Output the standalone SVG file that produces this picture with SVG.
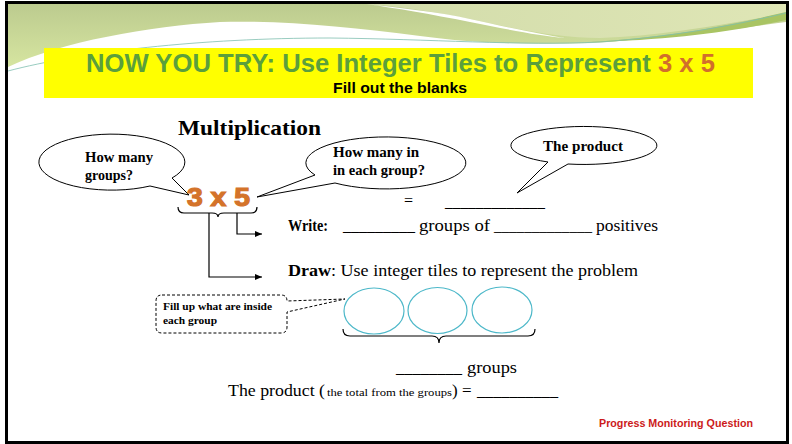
<svg xmlns="http://www.w3.org/2000/svg" width="792" height="444" viewBox="0 0 792 444">
<style>
.serif{font-family:"Liberation Serif","Times New Roman",serif;fill:#000}
.b{font-weight:bold}
.bub{fill:#fff;stroke:#000;stroke-width:1}
.ln{fill:none;stroke:#000;stroke-width:1.2}
.tile{fill:#fff;stroke:#4db8c9;stroke-width:1.2}
</style>
<defs>
<linearGradient id="gA" x1="0" y1="0" x2="0" y2="1">
<stop offset="0" stop-color="#bccb8f"/>
<stop offset="1" stop-color="#d6e5a0"/>
</linearGradient>
<linearGradient id="gB" x1="0" y1="0" x2="1" y2="0">
<stop offset="0" stop-color="#d2dcaa"/>
<stop offset="1" stop-color="#dfe6b6"/>
</linearGradient>
<marker id="arr" markerWidth="8" markerHeight="8" refX="7" refY="4" orient="auto" markerUnits="userSpaceOnUse">
<path d="M0,1 L7,4 L0,7 Z" fill="#000"/>
</marker>
</defs>
<rect x="0" y="0" width="792" height="444" fill="#fff"/>
<g id="background">
<path d="M8,4 L786,4 L786,22 C740,28 690,36 593,43 C530,45 470,43 420,36 C350,27 280,20 220,22 C150,26 60,42 8,67 Z" fill="url(#gA)"/>
<path d="M366,4 L786,4 L786,13 C730,24 660,36 600,38 C560,38 520,30 470,19 C430,11 395,6 366,4 Z" fill="url(#gB)"/>
<path d="M366,4 C400,8 440,12 470,19 C510,28 545,35 565,38 C540,36 505,29 470,22 C430,14 395,8 366,4 Z" fill="#fff"/>
<path d="M590,42 C660,38 720,28 786,12 L786,20 C730,32 670,40 590,42 Z" fill="#a9c463"/>
<path d="M8,71 C80,52 200,38 330,38 C430,39 520,46 600,42 C680,36 740,24 786,13" fill="none" stroke="#7fbfb0" stroke-width="0.8"/>
</g>
<rect id="frame" x="6.5" y="2.5" width="781" height="440" fill="none" stroke="#000" stroke-width="3"/>
<g id="title">
<rect x="44" y="48" width="709" height="50" fill="#ffff00"/>
<text x="86" y="72" font-family="'Liberation Sans',Arial,sans-serif" font-weight="bold" font-size="25" textLength="629" lengthAdjust="spacingAndGlyphs" fill="#5b9f3c">NOW YOU TRY: Use Integer Tiles to Represent <tspan fill="#d26f2b">3 x 5</tspan></text>
<text x="333" y="93" font-family="'Liberation Sans',Arial,sans-serif" font-weight="bold" font-size="15" textLength="134" lengthAdjust="spacingAndGlyphs" fill="#000">Fill out the blanks</text>
</g>
<g id="heading">
<text class="serif b" x="178" y="135" font-size="22" textLength="143" lengthAdjust="spacingAndGlyphs">Multiplication</text>
</g>
<g id="bubble-groups">
<path class="bub" d="M172,178 L189,195 L150,186 A73,28 0 1 1 172,178 Z"/>
<text class="serif b" font-size="14"><tspan x="85" y="162" textLength="68" lengthAdjust="spacingAndGlyphs">How many</tspan><tspan x="85" y="180" textLength="48" lengthAdjust="spacingAndGlyphs">groups?</tspan></text>
</g>
<g id="bubble-each">
<path class="bub" d="M335,183 L257,197 L315,175 A80,26 0 1 1 335,183 Z"/>
<text class="serif b" font-size="14"><tspan x="333" y="157" textLength="86" lengthAdjust="spacingAndGlyphs">How many in</tspan><tspan x="333" y="175" textLength="92" lengthAdjust="spacingAndGlyphs">in each group?</tspan></text>
</g>
<g id="bubble-product">
<path class="bub" d="M568,164 L517,193 L548,162 A73,19 0 1 1 568,164 Z"/>
<text class="serif b" x="543" y="151" font-size="14" textLength="80" lengthAdjust="spacingAndGlyphs">The product</text>
</g>
<g id="expression">
<text x="187" y="206" font-family="'Liberation Sans',Arial,sans-serif" font-weight="bold" font-size="25" fill="#d4732a" stroke="#d4732a" stroke-width="1.2" textLength="63" lengthAdjust="spacingAndGlyphs">3 x 5</text>
<text class="serif" x="404" y="206" font-size="16">=</text>
<text class="serif" x="445" y="207" font-size="16" textLength="100" lengthAdjust="spacingAndGlyphs">_____________</text>
</g>
<g id="connectors">
<path class="ln" d="M178,207 Q178,213 184,213 L212,213 Q218,213 218,217 Q218,213 224,213 L251,213 Q257,213 257,207"/>
<path class="ln" d="M237,213 V234 H262" marker-end="url(#arr)"/>
<path class="ln" d="M209,213 V277 H262" marker-end="url(#arr)"/>
<path class="ln" stroke-width="1.4" d="M343,329 Q343,336 350,336 L432,336 Q439,336 439,343 Q439,336 446,336 L528,336 Q535,336 535,329"/>
</g>
<g id="write">
<text class="serif" font-size="16"><tspan class="b" x="288" y="231" textLength="40" lengthAdjust="spacingAndGlyphs">Write:</tspan><tspan x="343" y="231" textLength="72" lengthAdjust="spacingAndGlyphs">_________</tspan><tspan x="419" y="231" textLength="71" lengthAdjust="spacingAndGlyphs">groups of</tspan><tspan x="494" y="231" textLength="98" lengthAdjust="spacingAndGlyphs">_____________</tspan><tspan x="596" y="231" textLength="62" lengthAdjust="spacingAndGlyphs">positives</tspan></text>
</g>
<g id="draw">
<text class="serif" font-size="16" x="288" y="276" textLength="350" lengthAdjust="spacingAndGlyphs"><tspan class="b">Draw</tspan>: Use integer tiles to represent the problem</text>
</g>
<g id="tiles">
<ellipse class="tile" cx="374" cy="311" rx="30" ry="23"/>
<ellipse class="tile" cx="437.5" cy="310.5" rx="29.5" ry="23"/>
<ellipse class="tile" cx="502" cy="310" rx="30" ry="23"/>
</g>
<g id="callout-fill">
<path d="M162,295 H281 Q287,295 287,301 L345,299 L287,312 V327 Q287,333 281,333 H162 Q156,333 156,327 V301 Q156,295 162,295 Z" fill="#fff" stroke="#000" stroke-width="1" stroke-dasharray="3,2"/>
<text class="serif b" font-size="11.4"><tspan x="163" y="310" textLength="109" lengthAdjust="spacingAndGlyphs">Fill up what are inside</tspan><tspan x="163" y="324" textLength="54" lengthAdjust="spacingAndGlyphs">each group</tspan></text>
</g>
<g id="groups-line">
<text class="serif" font-size="16"><tspan x="396" y="373" textLength="66" lengthAdjust="spacingAndGlyphs">________</tspan><tspan x="467" y="373" textLength="50" lengthAdjust="spacingAndGlyphs">groups</tspan></text>
</g>
<g id="product-line">
<text class="serif" font-size="17" y="396"><tspan x="228" textLength="97" lengthAdjust="spacingAndGlyphs">The product (</tspan><tspan x="327" font-size="11" textLength="125" lengthAdjust="spacingAndGlyphs">the total from the groups</tspan><tspan x="452">) =</tspan><tspan x="477" textLength="81" lengthAdjust="spacingAndGlyphs">__________</tspan></text>
</g>
<g id="footer">
<text x="599" y="427" font-family="'Liberation Sans',Arial,sans-serif" font-weight="bold" font-size="11.5" fill="#cc1a1a" textLength="154" lengthAdjust="spacingAndGlyphs">Progress Monitoring Question</text>
</g>
</svg>
